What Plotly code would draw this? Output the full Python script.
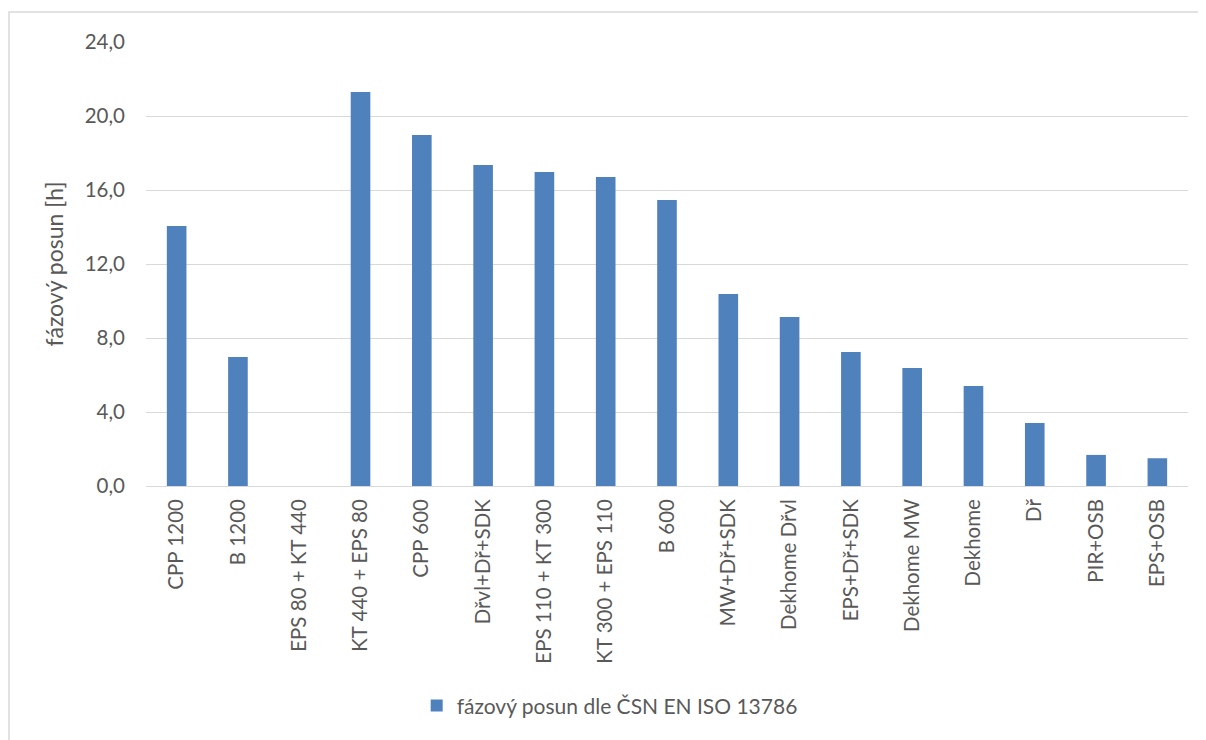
import plotly.graph_objects as go

categories = [
    "CPP 1200", "B 1200", "EPS 80 + KT 440", "KT 440 + EPS 80", "CPP 600",
    "Dřvl+Dř+SDK", "EPS 110 + KT 300", "KT 300 + EPS 110", "B 600",
    "MW+Dř+SDK", "Dekhome Dřvl", "EPS+Dř+SDK", "Dekhome MW", "Dekhome",
    "Dř", "PIR+OSB", "EPS+OSB",
]
phase_shift = [14.05, 6.97, 0.0, 21.3, 18.97, 17.35, 16.97, 16.7, 15.46,
               10.38, 9.14, 7.24, 6.38, 5.4, 3.4, 1.68, 1.5]
y_ticks = [0, 4, 8, 12, 16, 20, 24]

FONT = "Lato, 'Open Sans', sans-serif"
GREY = "#595959"

# page body has an 8px margin, so the figure is sized to fit inside the window
fig = go.Figure(go.Bar(
    x=categories, y=phase_shift,
    name="fázový posun dle ČSN EN ISO 13786",
    marker=dict(color="#4F81BD", line=dict(width=0)),
    width=0.32,
))

fig.update_layout(
    width=1198, height=732,
    plot_bgcolor="white", paper_bgcolor="white",
    separators=", ",
    margin=dict(l=138, r=18, t=34, b=254),
    font=dict(family=FONT, size=20, color=GREY),
    showlegend=True,
    legend=dict(orientation="h", x=0.445, xanchor="center", y=-0.495, yanchor="middle",
                font=dict(size=21, color=GREY)),
    xaxis=dict(tickangle=-90, showgrid=False, showline=False, ticks="",
               ticklabelstandoff=8, tickfont=dict(size=20.5, color=GREY)),
    yaxis=dict(range=[0, 24], tickvals=y_ticks, tickformat=".1f",
               gridcolor="#D9D9D9", gridwidth=1.3, zeroline=True,
               zerolinecolor="#D9D9D9", zerolinewidth=1.3,
               ticks="", ticklabelstandoff=20, tickfont=dict(size=20.5, color=GREY),
               title=dict(text="fázový posun [h]", font=dict(size=23, color=GREY),
                          standoff=14)),
    shapes=[dict(type="rect", xref="paper", yref="paper",
                 x0=(9 - 146) / 1042, x1=1.2, y0=-1.0, y1=(486 - 12) / 444,
                 line=dict(color="#D9D9D9", width=1.5), fillcolor="rgba(0,0,0,0)",
                 layer="below")],
)

fig.write_html("out.html")
